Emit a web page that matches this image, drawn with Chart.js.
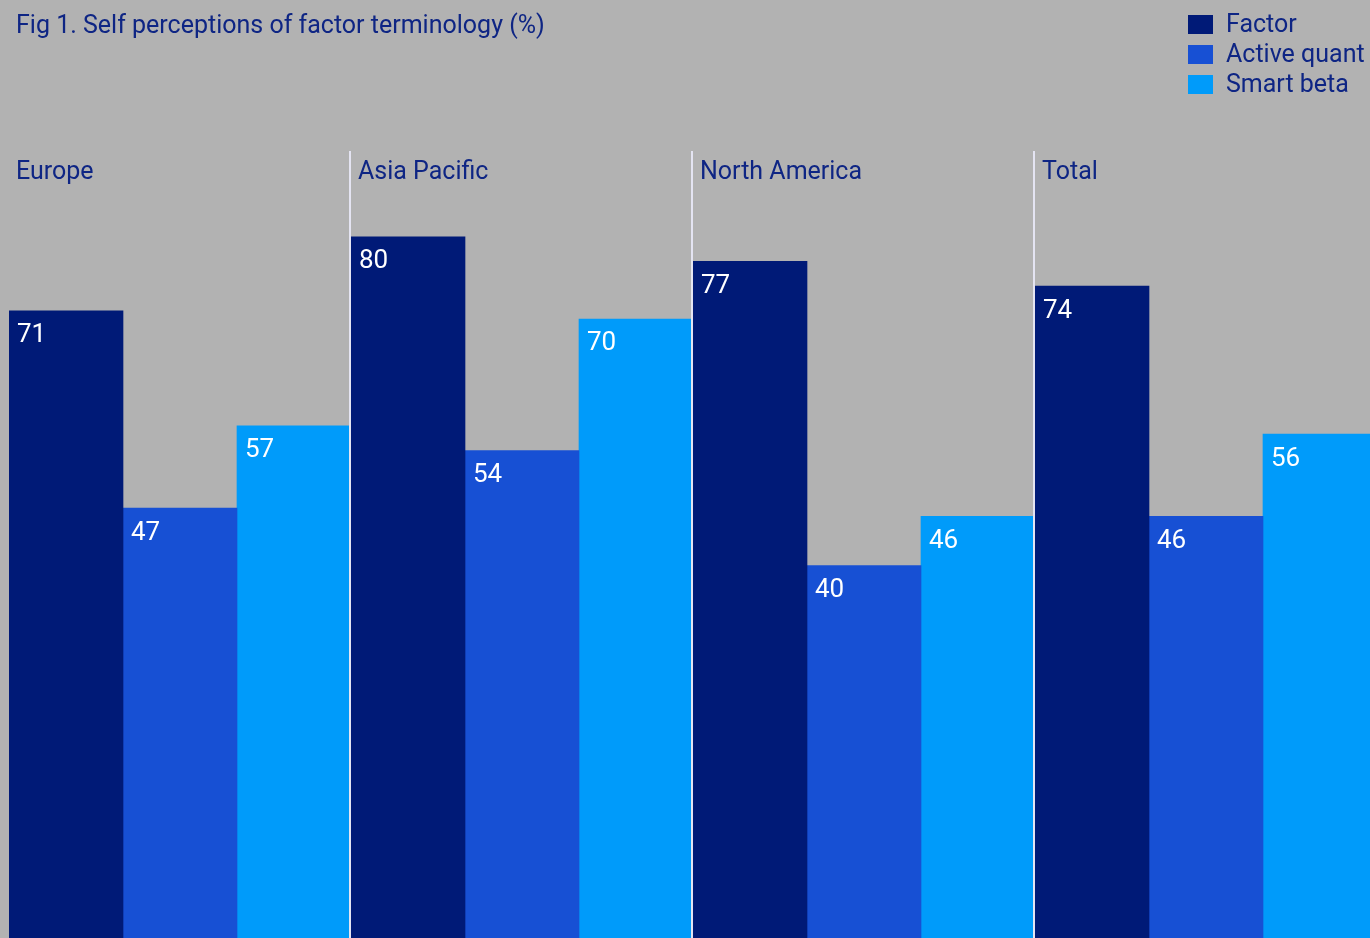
<!DOCTYPE html>
<html>
<head>
<meta charset="utf-8">
<script src="https://cdn.jsdelivr.net/npm/chart.js@4/dist/chart.umd.min.js"></script>
<style>
  html, body { margin: 0; padding: 0; background: #b2b2b2; overflow: hidden; }
  body { width: 1370px; height: 938px; position: relative; font-family: Roboto, sans-serif; }
  #wrap { position: absolute; left: 0; top: 0; width: 1377px; height: 938px; }
  #title { position: absolute; left: 16px; top: 10px; font-size: 25px; color: #0e2584; white-space: nowrap; }
  #legend { position: absolute; left: 1188px; top: 9px; font-size: 25px; color: #0e2584; }
  #legend div { height: 30px; line-height: 30px; white-space: nowrap; }
  #legend span { display: inline-block; width: 25px; height: 19px; margin-right: 13px; vertical-align: -2px; }
</style>
</head>
<body>
<div id="wrap"><canvas id="myChart" width="1377" height="938"></canvas></div>
<div id="title">Fig 1. Self perceptions of factor terminology (%)</div>
<div id="legend"></div>
<script>
// data
const regions = ['Europe', 'Asia Pacific', 'North America', 'Total'];
const factor = [71, 80, 77, 74];
const activeQuant = [47, 54, 40, 46];
const smartBeta = [57, 70, 46, 56];

const seriesNames = ['Factor', 'Active quant', 'Smart beta'];
const seriesColors = ['#001a77', '#1750d4', '#009bfa'];

const yMin = -5.3;
const yMax = 108.8;
const textFont = 'Roboto, sans-serif';

// legend
const legendBox = document.getElementById('legend');
seriesNames.forEach((name, i) => {
    let row = document.createElement('div');
    let sw = document.createElement('span');
    sw.style.background = seriesColors[i];
    row.appendChild(sw);
    row.appendChild(document.createTextNode(name));
    legendBox.appendChild(row);
});

// dividers, group labels and value labels
const decorations = {
    id: 'decorations',
    afterDatasetsDraw(chart) {
        const ctx = chart.ctx;
        const xs = chart.scales.x;
        const area = chart.chartArea;
        const step = xs.getPixelForValue(1) - xs.getPixelForValue(0);

        ctx.save();
        // value labels
        ctx.fillStyle = '#ffffff';
        ctx.font = '26px ' + textFont;
        ctx.textAlign = 'left';
        ctx.textBaseline = 'top';
        chart.data.datasets.forEach((ds, i) => {
            chart.getDatasetMeta(i).data.forEach((bar, j) => {
                let left = bar.x - bar.width / 2;
                ctx.fillText(String(ds.data[j]), left + 8, bar.y + 12);
            });
        });

        // white dividers between regions
        ctx.strokeStyle = '#e4e4f2';
        ctx.lineWidth = 2;
        for (let i = 1; i < regions.length; i++) {
            let x = xs.getPixelForValue(i) - step / 2 - 1;
            ctx.beginPath();
            ctx.moveTo(x, 151);
            ctx.lineTo(x, area.bottom);
            ctx.stroke();
        }

        // region names
        ctx.fillStyle = '#0e2584';
        ctx.font = '25px ' + textFont;
        ctx.textBaseline = 'middle';
        regions.forEach((r, i) => {
            let x = xs.getPixelForValue(i) - step / 2;
            ctx.fillText(r, x + 7, 173);
        });
        ctx.restore();
    }
};

const ctx = document.getElementById('myChart');
const myChart = new Chart(ctx, {
    type: 'bar',
    data: {
        labels: regions,
        datasets: [
            { label: seriesNames[0], data: factor, backgroundColor: seriesColors[0] },
            { label: seriesNames[1], data: activeQuant, backgroundColor: seriesColors[1] },
            { label: seriesNames[2], data: smartBeta, backgroundColor: seriesColors[2] }
        ]
    },
    options: {
        responsive: false,
        animation: false,
        layout: { padding: { left: 9, right: 0, top: 0, bottom: 0 } },
        datasets: {
            bar: { categoryPercentage: 1, barPercentage: 1, borderWidth: 0, base: yMin }
        },
        scales: {
            x: { display: false },
            y: { display: false, min: yMin, max: yMax }
        },
        plugins: {
            legend: { display: false },
            tooltip: { enabled: false }
        }
    },
    plugins: [decorations]
});
</script>
</body>
</html>
